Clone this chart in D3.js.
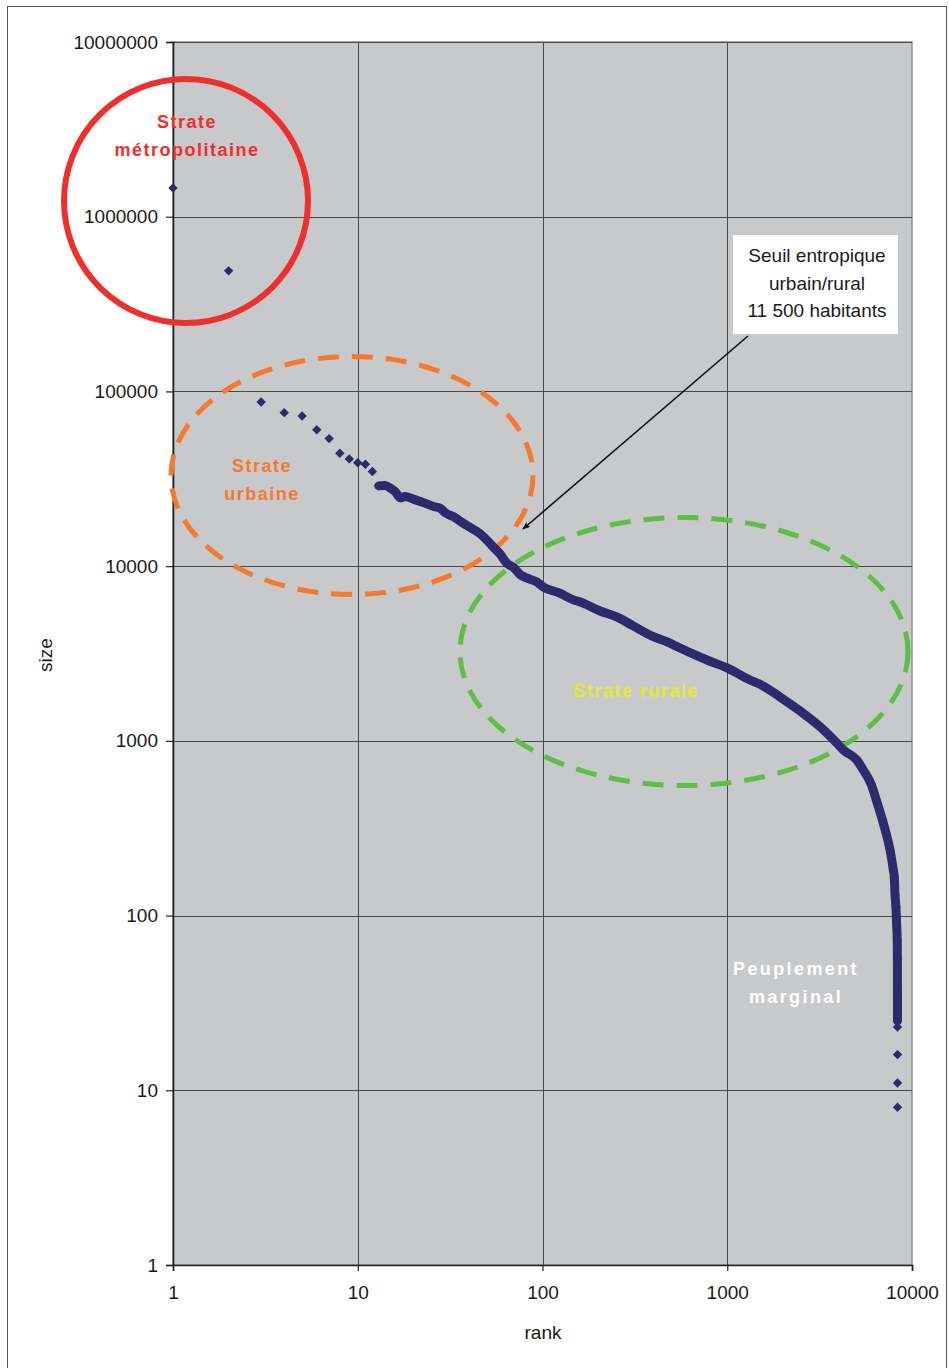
<!DOCTYPE html>
<html>
<head>
<meta charset="utf-8">
<script src="https://cdn.jsdelivr.net/npm/d3@7"></script>
<style>
  html, body { margin: 0; padding: 0; background: #fff; }
  svg { display: block; font-family: "Liberation Sans", Arial, sans-serif; }
</style>
</head>
<body>
<svg id="chart" width="949" height="1368"></svg>
<script>
// ---- data ----
const ranks = [1,2,3,4,5,6,7,8,9,10,11,12,13,14,15,16,17,
  18,20,22,26,28,30,33,36,40,46,
  50,54,59,64,70,76,82,93,101,
  124,147,160,205,252,310,398,470,555,
  712,774,1010,1328,1504,1930,2476,3177,3911,
  4249,5019,5449,5998,6573,6996,7230,7603,7925,
  8020,8091,8187,8260,8320,8335,8340,8342,8344,
  8345,8346,8347,8348,8349];
const sizes = [1460000,490000,87000,75600,72400,60400,53700,44300,41100,39100,
  38300,34800,28800,28900,28000,26600,24600,
  25000,24200,23400,21900,21400,20100,19200,18000,16800,15300,
  14100,12900,11700,10400,9770,8910,8560,8120,7600,
  7000,6410,6240,5540,5120,4550,3950,3700,3400,
  3020,2905,2600,2230,2110,1785,1483,1206,973,
  887,778,681,567,420,338,297,238,182,
  166,131,112,88,72,56,39,33,27,
  25,23,16,11,8];
const xTicks = [1,10,100,1000,10000];
const yTicks = [1,10,100,1000,10000,100000,1000000,10000000];
const xTitle = "rank";
const yTitle = "size";

const points = ranks.map((r, i) => ({rank: r, size: sizes[i]}));

// ---- layout ----
const svg = d3.select("#chart");
const L = 173, R = 912, T = 42, B = 1265;
const x = d3.scaleLog().domain([1, 10000]).range([L, R]);
const y = d3.scaleLog().domain([1, 1e7]).range([B, T]);

// outer frame
svg.append("rect").attr("x", 7.5).attr("y", 6.5).attr("width", 939).attr("height", 1400)
  .attr("fill", "#fff").attr("stroke", "#555").attr("stroke-width", 1);

// plot background
svg.append("rect").attr("x", L).attr("y", T).attr("width", R - L).attr("height", B - T)
  .attr("fill", "#c8c9cb").attr("stroke", "#8f8f8f").attr("stroke-width", 1.5);

// gridlines
const grid = svg.append("g");
grid.selectAll("line.gy").data(yTicks.filter(d => d > 1)).join("line")
  .attr("x1", L).attr("x2", R).attr("y1", d => Math.round(y(d)) + 0.5).attr("y2", d => Math.round(y(d)) + 0.5)
  .attr("stroke", "#4a4a4a").attr("stroke-width", 1);
grid.selectAll("line.gx").data(xTicks.filter(d => d > 1 && d < 10000)).join("line")
  .attr("y1", T).attr("y2", B).attr("x1", d => Math.round(x(d)) + 0.5).attr("x2", d => Math.round(x(d)) + 0.5)
  .attr("stroke", "#4a4a4a").attr("stroke-width", 1);

// axes
const fmt = d3.format("d");
const yAxis = svg.append("g").attr("transform", `translate(${L},0)`)
  .call(d3.axisLeft(y).tickValues(yTicks).tickFormat(fmt).tickSize(7).tickPadding(8));
const xAxis = svg.append("g").attr("transform", `translate(0,${B})`)
  .call(d3.axisBottom(x).tickValues(xTicks).tickFormat(fmt).tickSize(6).tickPadding(15));
[yAxis, xAxis].forEach(a => {
  a.select(".domain").attr("stroke", "#222").attr("stroke-width", 1.6);
  a.selectAll(".tick line").attr("stroke", "#222").attr("stroke-width", 1.2);
  a.selectAll(".tick text").attr("fill", "#1a1a1a").style("font-size", "19px")
    .style("font-family", "'Liberation Sans', Arial, sans-serif");
});

// axis titles
svg.append("text").attr("x", 543).attr("y", 1339).attr("text-anchor", "middle")
  .style("font-size", "19px").attr("fill", "#1a1a1a").text(xTitle);
svg.append("text").attr("transform", "translate(52,655) rotate(-90)").attr("text-anchor", "middle")
  .style("font-size", "19px").attr("fill", "#1a1a1a").text(yTitle);

// ---- annotation ellipses (behind data) ----
svg.append("ellipse").attr("cx", 352).attr("cy", 475.5).attr("rx", 181).attr("ry", 119)
  .attr("fill", "none").attr("stroke", "#f47a32").attr("stroke-width", 5).attr("stroke-dasharray", "21 13");
svg.append("ellipse").attr("cx", 684).attr("cy", 651.5).attr("rx", 224).attr("ry", 134)
  .attr("fill", "none").attr("stroke", "#5fbe48").attr("stroke-width", 5).attr("stroke-dasharray", "21 13");

// ---- data ----
const navy = "#2d2a6e";
const dense = points.filter(d => d.rank >= 13 && d.size >= 25);
svg.append("path").datum(dense)
  .attr("d", d3.line().curve(d3.curveMonotoneX).x(d => x(d.rank)).y(d => y(d.size)))
  .attr("fill", "none").attr("stroke", navy).attr("stroke-width", 9)
  .attr("stroke-linejoin", "round").attr("stroke-linecap", "round");
svg.selectAll("path.pt").data(points).join("path").attr("class", "pt")
  .attr("transform", d => `translate(${x(d.rank)},${y(d.size)})`)
  .attr("d", "M0,-4.7L4.7,0L0,4.7L-4.7,0Z").attr("fill", navy);

// ---- red circle ----
svg.append("circle").attr("cx", 186).attr("cy", 201).attr("r", 122)
  .attr("fill", "none").attr("stroke", "#ee2f2b").attr("stroke-width", 6);

// labels
function label(lines, cx, y0, dy, color, spacing) {
  const t = svg.append("text").attr("text-anchor", "middle").attr("fill", color)
    .style("font-size", "18px").style("font-weight", "bold").style("letter-spacing", spacing + "px");
  lines.forEach((s, i) => t.append("tspan").attr("x", cx).attr("y", y0 + i * dy).text(s));
}
label(["Strate", "métropolitaine"], 187, 128, 28, "#ee2f2b", 1.5);
label(["Strate", "urbaine"], 262, 472, 28, "#f47a32", 1.5);
label(["Strate rurale"], 636, 697, 28, "#e8e82a", 1.5);
label(["Peuplement", "marginal"], 796, 975, 28, "#ffffff", 2.4);

// threshold box and arrow
svg.append("rect").attr("x", 733).attr("y", 235).attr("width", 165).attr("height", 99).attr("fill", "#fff");
const bt = svg.append("text").attr("text-anchor", "middle").attr("fill", "#1a1a1a").style("font-size", "19px");
["Seuil entropique", "urbain/rural", "11 500 habitants"].forEach((s, i) =>
  bt.append("tspan").attr("x", 817).attr("y", 262 + i * 27.5).text(s));

svg.append("defs").append("marker").attr("id", "ah").attr("viewBox", "0 0 10 10")
  .attr("refX", 9).attr("refY", 5).attr("markerWidth", 8).attr("markerHeight", 8).attr("orient", "auto")
  .attr("markerUnits", "userSpaceOnUse")
  .append("path").attr("d", "M0,1L10,5L0,9L2.5,5Z").attr("fill", "#111");
svg.append("line").attr("x1", 748).attr("y1", 336).attr("x2", 523).attr("y2", 529)
  .attr("stroke", "#111").attr("stroke-width", 1.6).attr("marker-end", "url(#ah)");
</script>
</body>
</html>
